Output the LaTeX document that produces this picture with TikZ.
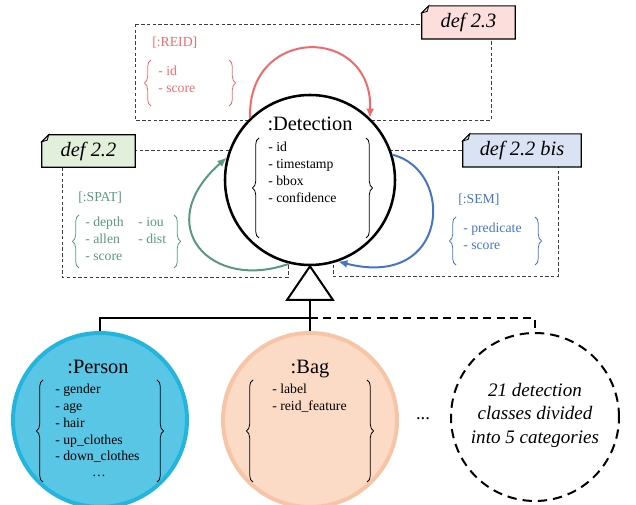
\documentclass[tikz,border=0pt]{standalone}
\usepackage{fontspec}
\setmainfont{Liberation Serif}
\usetikzlibrary{decorations.pathreplacing,arrows.meta,calc}
\definecolor{reidc}{RGB}{240,106,106}
\definecolor{spatc}{RGB}{88,154,126}
\definecolor{semc}{RGB}{70,116,200}
\definecolor{notepink}{RGB}{252,222,220}
\definecolor{notegreen}{RGB}{226,239,218}
\definecolor{noteblue}{RGB}{218,227,243}
\definecolor{personfill}{RGB}{88,198,228}
\definecolor{persondraw}{RGB}{34,182,222}
\definecolor{bagfill}{RGB}{251,219,197}
\definecolor{bagdraw}{RGB}{247,196,166}
\definecolor{boxline}{RGB}{60,60,60}
\newcommand\dogear[2]{%
  \draw[line width=0.9pt, fill=#2] ($(#1.north west)+(7,0)$) -- (#1.north east) -- (#1.south east) -- (#1.south west) -- ($(#1.north west)+(0,7)$) -- cycle;
  \draw[line width=0.6pt, fill=black!18] ($(#1.north west)+(0,7)$) -- ($(#1.north west)+(7,0)$) -- ($(#1.north west)+(5.5,5.5)$) -- cycle;}
\tikzset{
  item/.style={anchor=base west, inner sep=0pt, font=\fontsize{10.3}{12}\selectfont},
  ctitle/.style={anchor=base, inner sep=0pt, font=\fontsize{15.3}{18}\selectfont},
  dbox/.style={draw=boxline, line width=0.7pt, dash pattern=on 2.5pt off 1.8pt},
  brc/.style={decorate, decoration={brace, amplitude=5pt}, line width=0.6pt},
  notebox/.style={inner sep=0pt, minimum height=24.5pt},
  notetext/.style={inner sep=0pt, font=\itshape\fontsize{15.3}{18}\selectfont},
  arcline/.style={line width=1.5pt, -{Latex[length=7pt,width=6pt]}},
  inh/.style={line width=1.5pt},
  inhd/.style={line width=1.5pt, dash pattern=on 6pt off 4pt},
}
\begin{document}
\begin{tikzpicture}[x=0.75pt,y=-0.75pt]
\useasboundingbox (0,0) rectangle (636,505);

% dashed definition boxes
\draw[dbox] (135,24) rectangle (491,120);
\draw[dbox] (62,150) rectangle (288,277);
\draw[dbox] (333,150) rectangle (558,276);

% notes
\node[notebox, minimum width=69.75pt] (n23) at (468.5,22.5) {};
\dogear{n23}{notepink}
\node[notetext] at (n23) {def 2.3};
\node[notebox, minimum width=69.75pt, minimum height=24pt] (n22) at (88.5,151) {};
\dogear{n22}{notegreen}
\node[notetext] at (n22) {def 2.2};
\node[notebox, minimum width=88.5pt] (n22b) at (522,150.5) {};
\dogear{n22b}{noteblue}
\node[notetext] at (n22b) {def 2.2 bis};

% Detection circle
\node[circle, draw, line width=1.9pt, fill=white, minimum size=127.5pt, inner sep=0pt] (det) at (310,180) {};
\node[ctitle] at (310,131) {:Detection};
\draw[brc] (259,238) -- (259,138);
\draw[brc] (366,138) -- (366,238);
\node[item] at (268,152) {- id};
\node[item] at (268,169) {- timestamp};
\node[item] at (268,186) {- bbox};
\node[item] at (268,203) {- confidence};

% REID
\node[item, text=reidc] at (152,47) {[:REID]};
\draw[brc, draw=reidc] (151,106) -- (151,60);
\draw[brc, draw=reidc] (229,60) -- (229,106);
\node[item, text=reidc] at (158,76) {- id};
\node[item, text=reidc] at (158,93) {- score};

% SPAT
\node[item, text=spatc] at (78,202) {[:SPAT]};
\draw[brc, draw=spatc] (79,268) -- (79,215);
\draw[brc, draw=spatc] (174,215) -- (174,268);
\node[item, text=spatc] at (85,227) {- depth};
\node[item, text=spatc] at (85,244) {- allen};
\node[item, text=spatc] at (85,261) {- score};
\node[item, text=spatc] at (138,227) {- iou};
\node[item, text=spatc] at (138,244) {- dist};

% SEM
\node[item, text=semc] at (458,204) {[:SEM]};
\draw[brc, draw=semc] (456,265) -- (456,217);
\draw[brc, draw=semc] (535,217) -- (535,265);
\node[item, text=semc] at (463,233) {- predicate};
\node[item, text=semc] at (463,250) {- score};

% self relations
\draw[arcline, draw=reidc, -{Latex[length=7pt,width=6pt,color=reidc]}] (det.134) .. controls (247,25) and (373,25) .. (det.46);
\draw[arcline, draw=spatc] (det.256) .. controls (210,292) and (150,225) .. (det.165);
\draw[arcline, draw=semc] (det.17) .. controls (455,170) and (450,290) .. (det.289);

% subclasses
\node[circle, draw=persondraw, fill=personfill, line width=3pt, minimum size=130.5pt, inner sep=0pt] (person) at (100,420) {};
\node[circle, draw=bagdraw, fill=bagfill, line width=3pt, minimum size=130.5pt, inner sep=0pt] (bag) at (310,420) {};
\node[circle, draw, line width=1.5pt, dash pattern=on 7pt off 4.5pt, minimum size=126pt, inner sep=0pt] (more) at (535,417) {};

% inheritance
\coordinate (tribase) at (310,300);
\coordinate (junc) at (310,318);
\draw[inh] (tribase) -- (bag.north);
\draw[inh] (junc) -| (person.north);
\draw[inhd] (junc) -| (more.north);
\draw[line width=1.5pt, fill=white] (det.south) -- (333,300) -- (287,300) -- cycle;

% Person
\node[ctitle] at (98,374) {:Person};
\draw[brc] (43,482) -- (43,380);
\draw[brc] (157,380) -- (157,482);
\node[item] at (55,394) {- gender};
\node[item] at (55,411) {- age};
\node[item] at (55,428) {- hair};
\node[item] at (55,445) {- up\_clothes};
\node[item] at (55,461) {- down\_clothes};
\node[item, anchor=base] at (99,477) {\dots};

% Bag
\node[ctitle] at (310,374) {:Bag};
\draw[brc] (253,482) -- (253,380);
\draw[brc] (367,380) -- (367,482);
\node[item] at (272,394) {- label};
\node[item] at (272,411) {- reid\_feature};

\node[anchor=base, inner sep=0pt, font=\fontsize{14}{17}\selectfont] at (423,420) {...};
\node[align=center, inner sep=0pt, font=\itshape\fontsize{14.3}{17.6}\selectfont] at (535,415) {21 detection\\classes divided\\into 5 categories};
\end{tikzpicture}
\end{document}
